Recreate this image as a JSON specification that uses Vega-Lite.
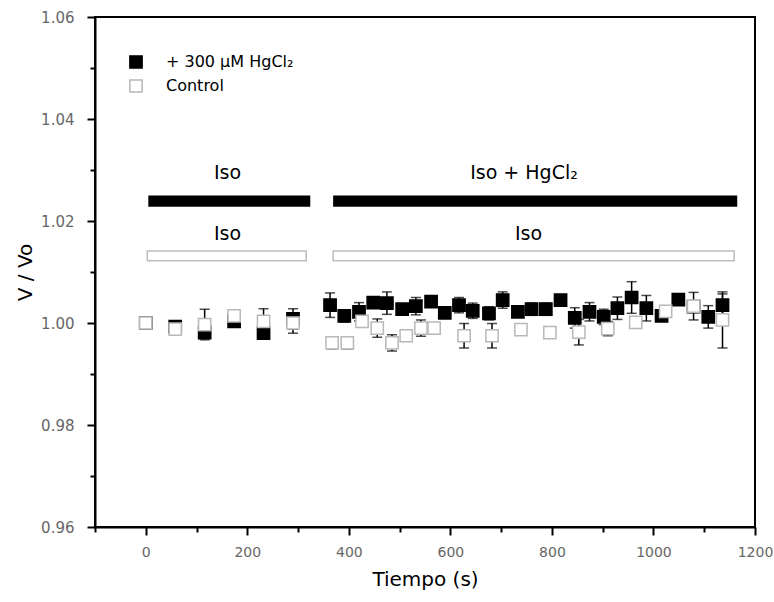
{
  "$schema": "https://vega.github.io/schema/vega-lite/v6.json",
  "width": 660,
  "height": 510,
  "autosize": "none",
  "padding": {"left": 95, "top": 17, "right": 19, "bottom": 75},
  "background": "white",
  "datasets": {
    "pts": [
      {"g": "+ 300 μM HgCl₂", "t": 0, "v": 1.0000, "lo": 1.0000, "hi": 1.0000},
      {"g": "+ 300 μM HgCl₂", "t": 58, "v": 0.9993, "lo": 0.9985, "hi": 1.0001},
      {"g": "+ 300 μM HgCl₂", "t": 116, "v": 0.9981, "lo": 0.9971, "hi": 0.9991},
      {"g": "+ 300 μM HgCl₂", "t": 174, "v": 1.0003, "lo": 0.9998, "hi": 1.0008},
      {"g": "+ 300 μM HgCl₂", "t": 232, "v": 0.9980, "lo": 0.9972, "hi": 0.9988},
      {"g": "+ 300 μM HgCl₂", "t": 290, "v": 1.0008, "lo": 0.9988, "hi": 1.0028},
      {"g": "+ 300 μM HgCl₂", "t": 363, "v": 1.0035, "lo": 1.0011, "hi": 1.0059},
      {"g": "+ 300 μM HgCl₂", "t": 391, "v": 1.0014, "lo": 1.0002, "hi": 1.0026},
      {"g": "+ 300 μM HgCl₂", "t": 420, "v": 1.0022, "lo": 1.0004, "hi": 1.0040},
      {"g": "+ 300 μM HgCl₂", "t": 448, "v": 1.0040, "lo": 1.0030, "hi": 1.0050},
      {"g": "+ 300 μM HgCl₂", "t": 475, "v": 1.0039, "lo": 1.0017, "hi": 1.0061},
      {"g": "+ 300 μM HgCl₂", "t": 505, "v": 1.0027, "lo": 1.0017, "hi": 1.0037},
      {"g": "+ 300 μM HgCl₂", "t": 532, "v": 1.0033, "lo": 1.0016, "hi": 1.0050},
      {"g": "+ 300 μM HgCl₂", "t": 562, "v": 1.0042, "lo": 1.0034, "hi": 1.0050},
      {"g": "+ 300 μM HgCl₂", "t": 589, "v": 1.0020, "lo": 1.0010, "hi": 1.0030},
      {"g": "+ 300 μM HgCl₂", "t": 617, "v": 1.0035, "lo": 1.0020, "hi": 1.0050},
      {"g": "+ 300 μM HgCl₂", "t": 644, "v": 1.0024, "lo": 1.0009, "hi": 1.0039},
      {"g": "+ 300 μM HgCl₂", "t": 676, "v": 1.0019, "lo": 1.0006, "hi": 1.0032},
      {"g": "+ 300 μM HgCl₂", "t": 703, "v": 1.0045, "lo": 1.0029, "hi": 1.0061},
      {"g": "+ 300 μM HgCl₂", "t": 733, "v": 1.0022, "lo": 1.0012, "hi": 1.0032},
      {"g": "+ 300 μM HgCl₂", "t": 760, "v": 1.0027, "lo": 1.0015, "hi": 1.0039},
      {"g": "+ 300 μM HgCl₂", "t": 788, "v": 1.0027, "lo": 1.0015, "hi": 1.0039},
      {"g": "+ 300 μM HgCl₂", "t": 817, "v": 1.0045, "lo": 1.0037, "hi": 1.0053},
      {"g": "+ 300 μM HgCl₂", "t": 845, "v": 1.0010, "lo": 0.9990, "hi": 1.0030},
      {"g": "+ 300 μM HgCl₂", "t": 874, "v": 1.0022, "lo": 1.0004, "hi": 1.0040},
      {"g": "+ 300 μM HgCl₂", "t": 902, "v": 1.0012, "lo": 0.9997, "hi": 1.0027},
      {"g": "+ 300 μM HgCl₂", "t": 929, "v": 1.0029, "lo": 1.0007, "hi": 1.0051},
      {"g": "+ 300 μM HgCl₂", "t": 957, "v": 1.0050, "lo": 1.0019, "hi": 1.0081},
      {"g": "+ 300 μM HgCl₂", "t": 986, "v": 1.0029, "lo": 1.0004, "hi": 1.0054},
      {"g": "+ 300 μM HgCl₂", "t": 1016, "v": 1.0014, "lo": 1.0004, "hi": 1.0024},
      {"g": "+ 300 μM HgCl₂", "t": 1049, "v": 1.0046, "lo": 1.0036, "hi": 1.0056},
      {"g": "+ 300 μM HgCl₂", "t": 1079, "v": 1.0032, "lo": 1.0022, "hi": 1.0042},
      {"g": "+ 300 μM HgCl₂", "t": 1108, "v": 1.0012, "lo": 0.9990, "hi": 1.0034},
      {"g": "+ 300 μM HgCl₂", "t": 1136, "v": 1.0035, "lo": 1.0013, "hi": 1.0057},
      {"g": "Control", "t": 0, "v": 1.0000, "lo": 1.0000, "hi": 1.0000},
      {"g": "Control", "t": 58, "v": 0.9988, "lo": 0.9978, "hi": 0.9998},
      {"g": "Control", "t": 116, "v": 0.9997, "lo": 0.9967, "hi": 1.0027},
      {"g": "Control", "t": 174, "v": 1.0014, "lo": 1.0004, "hi": 1.0024},
      {"g": "Control", "t": 232, "v": 1.0003, "lo": 0.9978, "hi": 1.0028},
      {"g": "Control", "t": 290, "v": 1.0000, "lo": 0.9980, "hi": 1.0020},
      {"g": "Control", "t": 367, "v": 0.9961, "lo": 0.9949, "hi": 0.9973},
      {"g": "Control", "t": 397, "v": 0.9961, "lo": 0.9949, "hi": 0.9973},
      {"g": "Control", "t": 426, "v": 1.0003, "lo": 0.9993, "hi": 1.0013},
      {"g": "Control", "t": 456, "v": 0.9990, "lo": 0.9972, "hi": 1.0008},
      {"g": "Control", "t": 485, "v": 0.9961, "lo": 0.9945, "hi": 0.9977},
      {"g": "Control", "t": 513, "v": 0.9975, "lo": 0.9965, "hi": 0.9985},
      {"g": "Control", "t": 542, "v": 0.9990, "lo": 0.9974, "hi": 1.0006},
      {"g": "Control", "t": 568, "v": 0.9990, "lo": 0.9982, "hi": 0.9998},
      {"g": "Control", "t": 627, "v": 0.9975, "lo": 0.9951, "hi": 0.9999},
      {"g": "Control", "t": 682, "v": 0.9975, "lo": 0.9951, "hi": 0.9999},
      {"g": "Control", "t": 739, "v": 0.9987, "lo": 0.9977, "hi": 0.9997},
      {"g": "Control", "t": 796, "v": 0.9981, "lo": 0.9973, "hi": 0.9989},
      {"g": "Control", "t": 853, "v": 0.9982, "lo": 0.9957, "hi": 1.0007},
      {"g": "Control", "t": 910, "v": 0.9989, "lo": 0.9975, "hi": 1.0003},
      {"g": "Control", "t": 965, "v": 1.0001, "lo": 0.9995, "hi": 1.0007},
      {"g": "Control", "t": 1024, "v": 1.0023, "lo": 1.0013, "hi": 1.0033},
      {"g": "Control", "t": 1079, "v": 1.0033, "lo": 1.0006, "hi": 1.0060},
      {"g": "Control", "t": 1136, "v": 1.0006, "lo": 0.9951, "hi": 1.0061}
    ],
    "bars": [
      {"k": "HgCl2", "t": 5, "t2": 324, "v": 1.0228, "v2": 1.0250},
      {"k": "HgCl2", "t": 369, "t2": 1165, "v": 1.0228, "v2": 1.0250},
      {"k": "Control", "t": 3, "t2": 316, "v": 1.0122, "v2": 1.0141},
      {"k": "Control", "t": 369, "t2": 1159, "v": 1.0122, "v2": 1.0141}
    ],
    "labels": [
      {"t": 161, "v": 1.0294, "txt": "Iso"},
      {"t": 745, "v": 1.0294, "txt": "Iso + HgCl₂"},
      {"t": 161, "v": 1.0175, "txt": "Iso"},
      {"t": 754, "v": 1.0175, "txt": "Iso"}
    ]
  },
  "encoding": {
    "x": {
      "field": "t", "type": "quantitative", "title": "Tiempo (s)",
      "scale": {"domain": [-100, 1200], "nice": false, "zero": false},
      "axis": {
        "values": [-100, 0, 100, 200, 300, 400, 500, 600, 700, 800, 900, 1000, 1100, 1200],
        "labelExpr": "datum.value % 200 == 0 ? datum.value : ''",
        "tickSize": {"condition": {"test": "datum.value % 200 == 0", "value": 8}, "value": 5},
        "labelFontSize": 14,
        "labelPadding": 10, "titlePadding": 10, "labelFlush": false, "labelOverlap": false
      }
    },
    "y": {
      "field": "v", "type": "quantitative", "title": "V / Vo",
      "scale": {"domain": [0.96, 1.06], "nice": false, "zero": false},
      "axis": {
        "values": [0.96, 0.97, 0.98, 0.99, 1.0, 1.01, 1.02, 1.03, 1.04, 1.05, 1.06],
        "labelExpr": "round(datum.value * 100) % 2 == 0 ? format(datum.value, '.2f') : ''",
        "tickSize": {"condition": {"test": "round(datum.value * 100) % 2 == 0", "value": 8}, "value": 5},
        "labelPadding": 13, "titlePadding": 5, "labelFlush": false, "labelOverlap": false
      }
    }
  },
  "layer": [
    {
      "data": {"name": "bars"},
      "transform": [{"filter": "datum.k == 'HgCl2'"}],
      "mark": {"type": "rect", "color": "black"},
      "encoding": {"x2": {"field": "t2"}, "y2": {"field": "v2"}}
    },
    {
      "data": {"name": "bars"},
      "transform": [{"filter": "datum.k == 'Control'"}],
      "mark": {"type": "rect", "fill": "white", "stroke": "#bdbdbd", "strokeWidth": 1.5},
      "encoding": {"x2": {"field": "t2"}, "y2": {"field": "v2"}}
    },
    {
      "data": {"name": "labels"},
      "mark": {"type": "text", "fontSize": 19, "color": "black", "font": "DejaVu Sans"},
      "encoding": {"text": {"field": "txt"}}
    },
    {
      "data": {"name": "pts"},
      "mark": {"type": "rule", "color": "black", "strokeWidth": 1.5},
      "encoding": {
        "y": {"field": "lo", "type": "quantitative", "title": "V / Vo"},
        "y2": {"field": "hi"}
      }
    },
    {
      "data": {"name": "pts"},
      "mark": {"type": "tick", "orient": "horizontal", "color": "black", "size": 10, "thickness": 1.5},
      "encoding": {"y": {"field": "lo", "type": "quantitative", "title": "V / Vo"}}
    },
    {
      "data": {"name": "pts"},
      "mark": {"type": "tick", "orient": "horizontal", "color": "black", "size": 10, "thickness": 1.5},
      "encoding": {"y": {"field": "hi", "type": "quantitative", "title": "V / Vo"}}
    },
    {
      "data": {"name": "pts"},
      "mark": {"type": "point", "shape": "square", "size": 150, "filled": true, "strokeWidth": 1.5, "opacity": 1},
      "encoding": {
        "fill": {
          "field": "g", "type": "nominal",
          "scale": {"domain": ["+ 300 μM HgCl₂", "Control"], "range": ["black", "white"]},
          "legend": {
            "title": null, "orient": "none", "legendX": 33, "legendY": 37,
            "symbolType": "square", "symbolSize": 150, "symbolStrokeWidth": 1.5,
            "labelFontSize": 16, "labelColor": "black", "labelFont": "DejaVu Sans",
            "labelOffset": 22, "rowPadding": 4, "padding": 0
          }
        },
        "stroke": {
          "field": "g", "type": "nominal",
          "scale": {"domain": ["+ 300 μM HgCl₂", "Control"], "range": ["black", "#b8b8b8"]},
          "legend": {
            "title": null, "orient": "none", "legendX": 33, "legendY": 37,
            "symbolType": "square", "symbolSize": 150, "symbolStrokeWidth": 1.5,
            "labelFontSize": 16, "labelColor": "black", "labelFont": "DejaVu Sans",
            "labelOffset": 22, "rowPadding": 4, "padding": 0
          }
        }
      }
    }
  ],
  "config": {
    "font": "DejaVu Sans",
    "view": {"stroke": "black", "strokeWidth": 2},
    "axis": {
      "grid": false,
      "domainColor": "black", "domainWidth": 2,
      "tickColor": "black", "tickWidth": 2,
      "labelColor": "#666666", "labelFontSize": 15, "labelFont": "DejaVu Sans",
      "titleFontSize": 20, "titleFontWeight": "normal", "titleColor": "black", "titleFont": "DejaVu Sans"
    }
  }
}
